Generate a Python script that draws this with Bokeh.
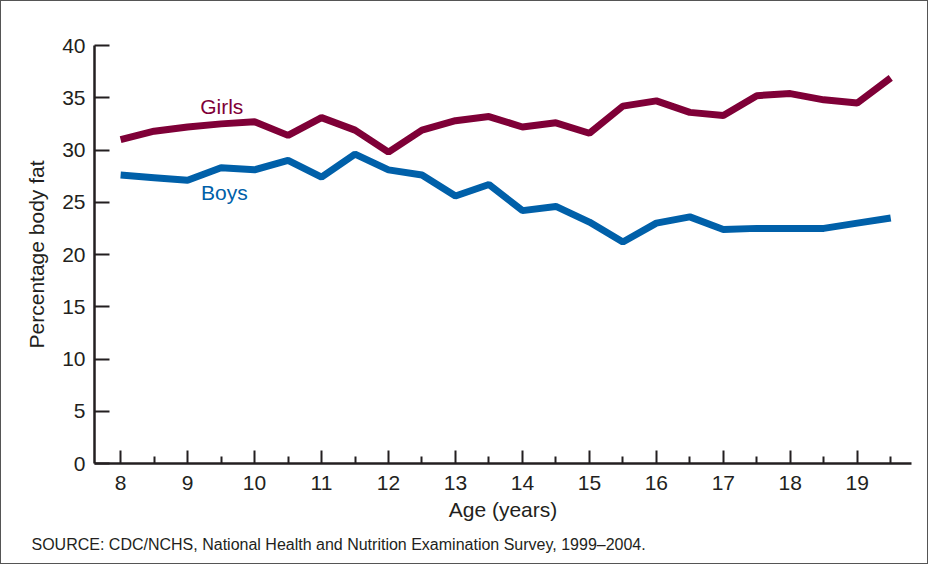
from bokeh.plotting import figure
from bokeh.models import FixedTicker, Label, Range1d, Title
from bokeh.embed import file_html
from bokeh.resources import INLINE

ages = [8, 8.5, 9, 9.5, 10, 10.5, 11, 11.5, 12, 12.5, 13, 13.5, 14, 14.5,
        15, 15.5, 16, 16.5, 17, 17.5, 18, 18.5, 19, 19.5]
girls = [31.0, 31.8, 32.2, 32.5, 32.7, 31.4, 33.1, 31.9, 29.8, 31.9, 32.8, 33.2,
         32.2, 32.6, 31.6, 34.2, 34.7, 33.6, 33.3, 35.2, 35.4, 34.8, 34.5, 36.9]
boys = [27.6, 27.35, 27.1, 28.3, 28.1, 29.0, 27.4, 29.6, 28.1, 27.6, 25.6, 26.7,
        24.2, 24.6, 23.1, 21.2, 23.0, 23.6, 22.4, 22.5, 22.5, 22.5, 23.0, 23.5]
x_ticks = list(range(8, 20))
x_minor = [t + 0.5 for t in range(8, 20)]
y_ticks = [0, 5, 10, 15, 20, 25, 30, 35, 40]

FONT = "Liberation Sans"
FS = "21px"
GIRL_C = "#7f0037"
BOY_C = "#0060a9"
AX_C = "#231f20"

p = figure(width=928, height=564, output_backend="svg", toolbar_location=None,
           x_range=Range1d(7.61, 19.81), y_range=Range1d(0, 40),
           min_border_left=93, min_border_right=18, min_border_top=44,
           min_border_bottom=102)
p.styles = {"border": "1px solid #555555"}
p.outline_line_color = None
p.grid.grid_line_color = None
p.background_fill_color = "white"
p.border_fill_color = "white"

p.line(ages, girls, line_color=GIRL_C, line_width=7)
p.line(ages, boys, line_color=BOY_C, line_width=7)

xa = p.xaxis[0]
xa.ticker = FixedTicker(ticks=x_ticks, minor_ticks=x_minor)
xa.axis_line_width = 2.5
xa.axis_line_color = AX_C
xa.major_tick_in = 13
xa.major_tick_out = 0
xa.minor_tick_in = 7
xa.minor_tick_out = 0
xa.major_tick_line_width = 2
xa.minor_tick_line_width = 2
xa.major_tick_line_color = AX_C
xa.minor_tick_line_color = AX_C
xa.major_label_text_font = FONT
xa.major_label_text_font_size = FS
xa.major_label_text_color = AX_C
xa.major_label_standoff = 12
xa.axis_label = "Age (years)"
xa.axis_label_text_font = FONT
xa.axis_label_text_font_size = FS
xa.axis_label_text_font_style = "normal"
xa.axis_label_text_color = AX_C
xa.axis_label_standoff = 5

ya = p.yaxis[0]
ya.ticker = FixedTicker(ticks=y_ticks)
ya.axis_line_width = 2.5
ya.axis_line_color = AX_C
ya.major_tick_in = 15
ya.major_tick_out = 0
ya.minor_tick_line_color = None
ya.major_tick_line_width = 2
ya.major_tick_line_color = AX_C
ya.major_label_text_font = FONT
ya.major_label_text_font_size = FS
ya.major_label_text_color = AX_C
ya.major_label_standoff = 9
ya.axis_label = "Percentage body fat"
ya.axis_label_text_font = FONT
ya.axis_label_text_font_size = FS
ya.axis_label_text_font_style = "normal"
ya.axis_label_text_color = AX_C
ya.axis_label_standoff = 11

src = Title(text="SOURCE: CDC/NCHS, National Health and Nutrition Examination Survey, 1999\u20132004.",
            align="left", offset=-63, text_font=FONT, text_font_size="16px",
            text_font_style="normal", text_color=AX_C, standoff=20)
p.add_layout(src, "below")

p.add_layout(Label(x=9.51, y=34.2, text="Girls", text_align="center",
                   text_baseline="middle", text_font=FONT,
                   text_font_size=FS, text_color=GIRL_C))
p.add_layout(Label(x=9.55, y=25.9, text="Boys", text_align="center",
                   text_baseline="middle", text_font=FONT,
                   text_font_size=FS, text_color=BOY_C))

open("out.html", "w").write(file_html(p, INLINE))
